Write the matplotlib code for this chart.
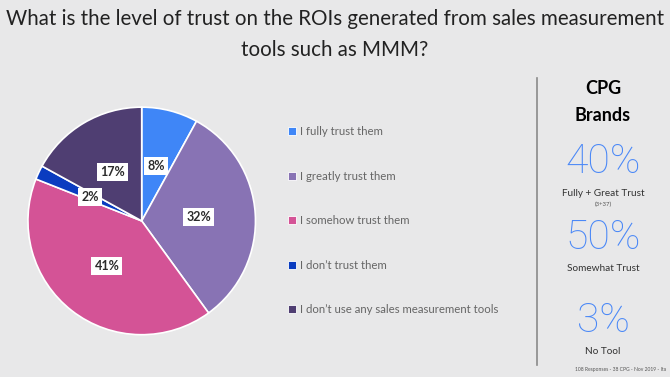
import numpy as np
import matplotlib.pyplot as plt
from matplotlib.patches import Patch
from matplotlib.lines import Line2D

plt.rcParams['font.family'] = ['Lato', 'DejaVu Sans']

# data
labels = ['I fully trust them', 'I greatly trust them', 'I somehow trust them',
          'I don\u2019t trust them', 'I don\u2019t use any sales measurement tools']
shares = [8, 32, 41, 2, 17]
colors = ['#3f86f7', '#8873b4', '#d45396', '#0a3cc0', '#4f3e72']

kpi_values = ['40%', '50%', '3%']
kpi_labels = ['Fully + Great Trust', 'Somewhat Trust', 'No Tool']
kpi_notes = ['(3+37)', '', '']

title = 'What is the level of trust on the ROIs generated from sales measurement\ntools such as MMM?'
footer = '108 Responses - 38 CPG - Nov 2019 - Ita'

bg = '#e8e8e9'
fig = plt.figure(figsize=(6.7, 3.77), dpi=100, facecolor=bg)

fig.text(0.5, 0.975, title, ha='center', va='top', fontsize=14.8,
         color='#222222', linespacing=1.65)

### Pie
ax = fig.add_axes([0.040, 0.109, 0.343, 0.610])
wedges, texts = ax.pie(shares, colors=colors, startangle=90, counterclock=False,
                       labels=[f'{v}%' for v in shares], labeldistance=0.5,
                       wedgeprops=dict(edgecolor='white', linewidth=1.2))
for t in texts:
    t.set_ha('center')
    t.set_va('center')
    t.set_fontsize(9)
    t.set_fontweight('bold')
    t.set_color('#2b2b2b')
    t.set_bbox(dict(facecolor='white', edgecolor='none', pad=2.2))
ax.set_xlim(-1.01, 1.01)
ax.set_ylim(-1.01, 1.01)
ax.set_aspect('equal')

### Legend
handles = [Line2D([0], [0], marker='s', linestyle='none', markersize=5.5,
                  markerfacecolor=c, markeredgecolor='white', markeredgewidth=0.6)
           for c in colors]
leg = fig.legend(handles, labels, loc='upper left', bbox_to_anchor=(0.431, 0.666),
                 frameon=False, fontsize=8.2, labelspacing=2.95, handlelength=0.6,
                 handletextpad=0.35, borderaxespad=0, borderpad=0)
for t in leg.get_texts():
    t.set_color('#666666')

### Right panel
fig.add_artist(Line2D([0.802, 0.802], [0.032, 0.793], color='#8a8a8a', linewidth=1.2))
fig.text(0.900, 0.765, 'CPG', ha='center', va='center', fontsize=13, fontweight='bold', color='black')
fig.text(0.900, 0.693, 'Brands', ha='center', va='center', fontsize=13, fontweight='bold', color='black')

kpi_y = [0.570, 0.370, 0.150]
for v, lab, note, y in zip(kpi_values, kpi_labels, kpi_notes, kpi_y):
    fig.text(0.900, y, v, ha='center', va='center', fontsize=29.5, fontweight='light',
             family=['Roboto', 'DejaVu Sans'], color='#4a88f7')
    fig.text(0.900, y - 0.083, lab, ha='center', va='center', fontsize=7.2, color='#333333')
    if note:
        fig.text(0.900, y - 0.112, note, ha='center', va='center', fontsize=4.3, color='#555555')

fig.text(0.858, 0.012, footer, ha='left', va='bottom', fontsize=3.6, color='#555555')

fig.savefig('out.png', dpi=100, facecolor=bg)
